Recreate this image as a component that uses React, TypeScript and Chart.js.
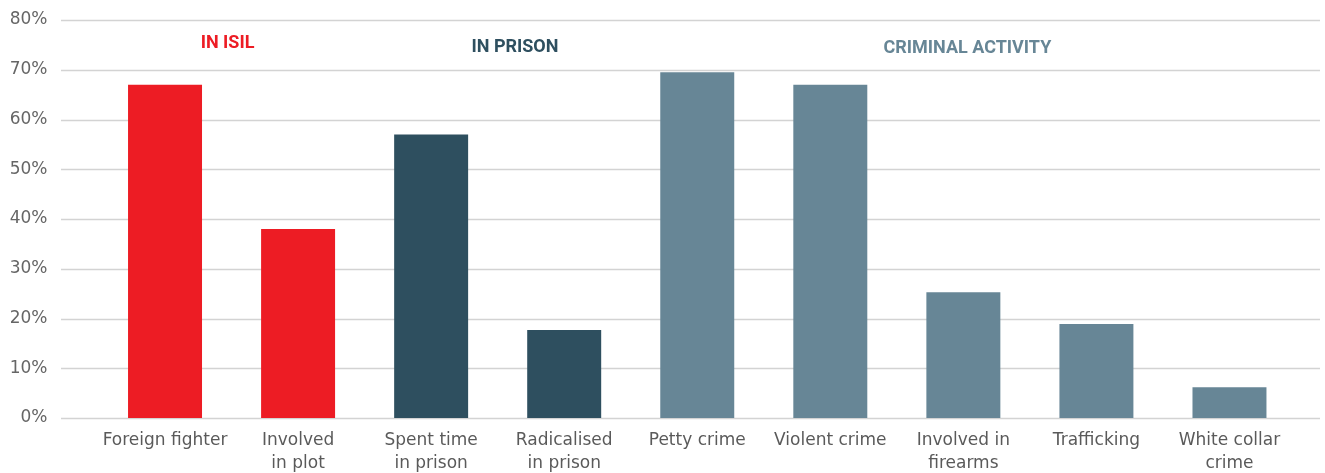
import React, { useEffect, useRef } from "react";
import { Chart, registerables } from "chart.js";

Chart.register(...registerables);

const categories: (string | string[])[] = [
  "Foreign fighter",
  ["Involved", "in plot"],
  ["Spent time", "in prison"],
  ["Radicalised", "in prison"],
  "Petty crime",
  "Violent crime",
  ["Involved in", "firearms"],
  "Trafficking",
  ["White collar", "crime"],
];
const values = [67, 38, 57, 17.7, 69.5, 67, 25.3, 18.9, 6.2];
const barColors = [
  "#ED1C24", "#ED1C24",
  "#2E4F5F", "#2E4F5F",
  "#678696", "#678696", "#678696", "#678696", "#678696",
];
const groupLabels = ["IN ISIL", "IN PRISON", "CRIMINAL ACTIVITY"];
const groupPositions = [0.47, 2.63, 6.03];
const groupLevels = [75.2, 74.4, 74.2];
const groupColors = ["#ED1C24", "#2E4F5F", "#678696"];
const yTicks = [0, 10, 20, 30, 40, 50, 60, 70, 80];

const gridPlugin = {
  id: "fullGrid",
  beforeDatasetsDraw(chart: any) {
    const { ctx } = chart;
    const y = chart.scales.y;
    ctx.save();
    ctx.strokeStyle = "#d3d3d3";
    ctx.lineWidth = 1.5;
    yTicks.forEach((t) => {
      const py = Math.round(y.getPixelForValue(t)) + 0.5;
      ctx.beginPath();
      ctx.moveTo(61, py);
      ctx.lineTo(1320, py);
      ctx.stroke();
    });
    ctx.restore();
  },
  afterDraw(chart: any) {
    const { ctx } = chart;
    const x = chart.scales.x;
    const y = chart.scales.y;
    ctx.save();
    ctx.font = "bold 18px Roboto";
    ctx.textAlign = "center";
    ctx.textBaseline = "middle";
    groupLabels.forEach((g, i) => {
      const p = groupPositions[i];
      const i0 = Math.floor(p);
      const frac = p - i0;
      const px0 = x.getPixelForValue(i0);
      const px1 = x.getPixelForValue(Math.min(i0 + 1, categories.length - 1));
      const px = px0 + (px1 - px0) * frac;
      const py = y.getPixelForValue(groupLevels[i]);
      ctx.fillStyle = groupColors[i];
      ctx.fillText(g, px, py);
    });
    ctx.restore();
  },
};

export default function App() {
  const ref = useRef<HTMLCanvasElement>(null);
  useEffect(() => {
    if (!ref.current) return;
    const chart = new Chart(ref.current, {
      type: "bar",
      data: {
        labels: categories,
        datasets: [
          {
            data: values,
            backgroundColor: barColors,
            barPercentage: 0.556,
            categoryPercentage: 1,
          },
        ],
      },
      options: {
        animation: false,
        responsive: false,
        devicePixelRatio: 1,
        layout: { padding: { top: 20, right: 29, left: 0, bottom: 0 } },
        plugins: { legend: { display: false }, tooltip: { enabled: false } },
        scales: {
          x: {
            grid: { display: false },
            border: { display: false },
            ticks: {
              color: "#5a5a5a",
              font: { family: "DejaVu Sans", size: 17, lineHeight: 1.3 },
              padding: 4,
              maxRotation: 0,
              autoSkip: false,
            },
            afterFit: (s: any) => {
              s.height = 55;
              s.paddingLeft = 0;
              s.paddingRight = 0;
            },
          },
          y: {
            min: 0,
            max: 80,
            grid: { display: false, drawTicks: false },
            border: { display: false },
            ticks: {
              stepSize: 10,
              color: "#666",
              font: { family: "DejaVu Sans", size: 17 },
              padding: 51,
              callback: (v: any) => v + "%",
            },
            afterFit: (s: any) => {
              s.width = 98.5;
              s.paddingTop = 0;
              s.paddingBottom = 0;
            },
          },
        },
      },
      plugins: [gridPlugin],
    });
    return () => chart.destroy();
  }, []);
  return (
    <div style={{ position: "absolute", left: 0, top: 0, width: 1325, height: 473, background: "#fff" }}>
      <canvas ref={ref} width={1325} height={473} style={{ display: "block" }} />
    </div>
  );
}
